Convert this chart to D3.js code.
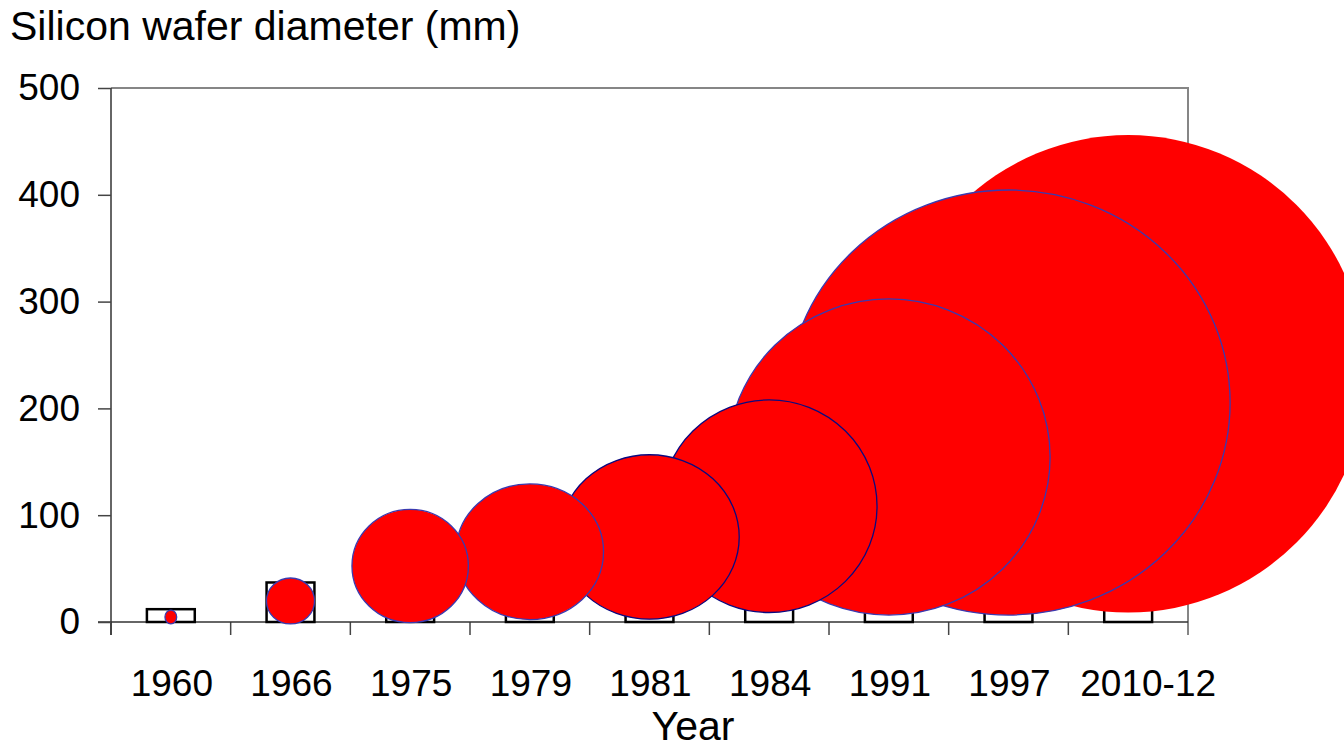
<!DOCTYPE html>
<html>
<head>
<meta charset="utf-8">
<script src="https://cdn.jsdelivr.net/npm/d3@7"></script>
<style>
  html, body { margin: 0; padding: 0; background: #ffffff; }
  svg { display: block; font-family: "Liberation Sans", Arial, sans-serif; }
</style>
</head>
<body>
<svg id="chart" width="1344" height="745"></svg>
<script>
// Wafer generations along the category axis
const years = ["1960", "1966", "1975", "1979", "1981", "1984", "1991", "1997", "2010-12"];
// Outlined column behind each wafer (mm)
const barValues = [12, 37, 50, 62, 75, 100, 150, 200, 225];
// Wafer disc: vertical centre, height and width, all in mm on the value axis
const bubbleCenter = [4.7, 19.7, 52.4, 65.8, 79.6, 108.4, 154.5, 205.5, 232.4];
const bubbleHeight = [13, 43, 106, 127, 154, 199, 296, 398, 447];
const bubbleWidth = [11, 45, 109, 138, 168, 202, 302, 415, 446];
const yTicks = [0, 100, 200, 300, 400, 500];

(function draw() {
  const svg = d3.select("#chart");
  const plotL = 111, plotR = 1188, plotT = 88, plotB = 622;

  const x = d3.scaleBand().domain(years).range([plotL, plotR]).paddingInner(0.6).paddingOuter(0.3);
  const y = d3.scaleLinear().domain([0, 500]).range([plotB, plotT]);
  const pxPerMm = y(0) - y(1);

  // Title
  svg.append("text")
    .attr("x", 10).attr("y", 40)
    .attr("font-size", 41).attr("fill", "#000")
    .text("Silicon wafer diameter (mm)");

  // Plot frame (top and right edges)
  svg.append("path")
    .attr("d", `M${plotL},${plotT}H${plotR}V${plotB + 13}`)
    .attr("fill", "none").attr("stroke", "#868686").attr("stroke-width", 2);

  // Category boundary ticks on the bottom axis
  const step = x.step();
  const edges = years.map(d => x(d) - (step - x.bandwidth()) / 2).concat([plotR]);
  svg.append("g").selectAll("line").data(edges).join("line")
    .attr("x1", d => d).attr("x2", d => d)
    .attr("y1", plotB).attr("y2", plotB + 13)
    .attr("stroke", d => d === plotR ? "#868686" : "#444").attr("stroke-width", 1.5);

  // Bottom axis line
  svg.append("line")
    .attr("x1", plotL - 13).attr("x2", plotR).attr("y1", plotB).attr("y2", plotB)
    .attr("stroke", "#333").attr("stroke-width", 1.5);

  // Value axis
  const yAxis = svg.append("g")
    .attr("transform", `translate(${plotL},0)`)
    .call(d3.axisLeft(y).tickValues(yTicks).tickSize(13).tickPadding(18).tickSizeOuter(0));
  yAxis.select(".domain").attr("stroke", "#333").attr("stroke-width", 1.5)
    .attr("d", `M0,${plotT}V${plotB + 13}`);
  yAxis.selectAll(".tick line").attr("stroke", "#444").attr("stroke-width", 1.5);
  yAxis.selectAll(".tick text").attr("font-size", 37).attr("fill", "#000")
    .attr("font-family", "Liberation Sans, Arial, sans-serif");

  // Category axis labels (the long last label sits a little to the right)
  const xAxis = svg.append("g")
    .attr("transform", `translate(0,${plotB})`)
    .call(d3.axisBottom(x).tickSize(0).tickPadding(48));
  xAxis.select(".domain").remove();
  xAxis.selectAll(".tick text").attr("font-size", 37).attr("fill", "#000")
    .attr("font-family", "Liberation Sans, Arial, sans-serif")
    .attr("dx", d => d === years[years.length - 1] ? 20 : 1);

  // Axis title
  svg.append("text")
    .attr("x", 693).attr("y", 740)
    .attr("text-anchor", "middle")
    .attr("font-size", 41).attr("fill", "#000")
    .text("Year");

  // Outlined columns
  svg.append("g").selectAll("rect").data(years).join("rect")
    .attr("x", d => x(d))
    .attr("width", x.bandwidth())
    .attr("y", (d, i) => y(barValues[i]))
    .attr("height", (d, i) => y(0) - y(barValues[i]))
    .attr("fill", "#fff").attr("stroke", "#000").attr("stroke-width", 2.5);

  // Wafer discs, largest at the back
  const discs = years.map((d, i) => ({
    year: d, c: bubbleCenter[i], h: bubbleHeight[i], w: bubbleWidth[i], i
  })).sort((a, b) => b.h - a.h);

  const strokeFor = i => i === years.length - 1 ? "none" : (i === 4 || i === 5 ? "#0a0a80" : "#3a3ab0");

  svg.append("g").selectAll("ellipse").data(discs).join("ellipse")
    .attr("cx", d => x(d.year) + x.bandwidth() / 2)
    .attr("cy", d => y(d.c))
    .attr("rx", d => d.w * pxPerMm / 2)
    .attr("ry", d => d.h * pxPerMm / 2)
    .attr("fill", "#ff0000")
    .attr("stroke", d => strokeFor(d.i))
    .attr("stroke-width", 1.3);
})();
</script>
</body>
</html>
